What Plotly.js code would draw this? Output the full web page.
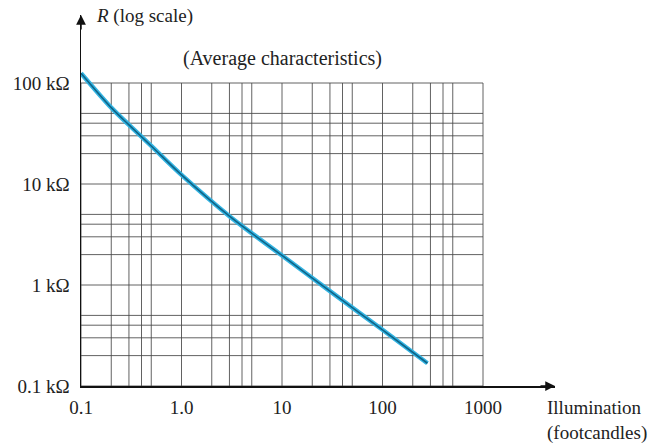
<!DOCTYPE html>
<html>
<head>
<meta charset="utf-8">
<script src="https://cdn.plot.ly/plotly-3.0.1.min.js"></script>
<style>html,body{margin:0;padding:0;background:#fff;}#chart{width:658px;height:445px;}</style>
</head>
<body>
<div id="chart"></div>
<script>
// Data (illumination in footcandles, resistance in kΩ)
var illumination = [0.1, 0.2, 0.3, 0.5, 1, 3, 10, 30, 100, 280];
var resistanceK  = [125, 57, 38.5, 23.8, 12.3, 4.8, 1.96, 0.87, 0.36, 0.168];

// Grid / tick definitions
var gridX = [0.1, 0.2, 0.3, 0.4, 0.5, 1, 2, 3, 4, 5, 10, 20, 30, 40, 50, 100, 200, 300, 400, 500, 1000];
var gridY = [0.1, 0.2, 0.3, 0.4, 0.5, 1, 2, 3, 4, 5, 10, 20, 30, 40, 50, 100];
var xTickVals = [0.1, 1, 10, 100, 1000];
var xTickText = ['0.1', '1.0', '10', '100', '1000'];
var yTickVals = [0.1, 1, 10, 100];
var yTickText = ['0.1 kΩ', '1 kΩ', '10 kΩ', '100 kΩ'];

var xMin = gridX[0], xMax = gridX[gridX.length - 1];
var yMin = gridY[0], yMax = gridY[gridY.length - 1];

var gx = [], gy = [];
gridX.forEach(function (v) { gx.push(v, v, null); gy.push(yMin, yMax, null); });
gridY.forEach(function (v) { gx.push(xMin, xMax, null); gy.push(v, v, null); });

var serif = 'Liberation Serif, Times New Roman, serif';

var traces = [
  {x: gx, y: gy, mode: 'lines', line: {color: 'rgba(70,70,70,0.85)', width: 1},
   hoverinfo: 'skip', showlegend: false, connectgaps: false},
  {x: illumination, y: resistanceK, mode: 'lines', line: {color: '#33b4e2', width: 4.5, shape: 'spline', smoothing: 1},
   hoverinfo: 'skip', showlegend: false},
  {x: illumination, y: resistanceK, mode: 'lines', line: {color: '#0f6488', width: 1.6, shape: 'spline', smoothing: 1},
   hoverinfo: 'skip', showlegend: false}
];

var L = 81, R = 103, T = 15, B = 59;
var W = 658, H = 445;
var pw = W - L - R, ph = H - T - B;
var xDec = 100.5, yDec = 101;

var layout = {
  width: W, height: H,
  margin: {l: L, r: R, t: T, b: B, pad: 0},
  paper_bgcolor: '#fff', plot_bgcolor: '#fff',
  showlegend: false,
  font: {family: serif, size: 19, color: '#222'},
  xaxis: {
    type: 'log', range: [-1, -1 + pw / xDec],
    tickvals: xTickVals, ticktext: xTickText,
    showgrid: false, zeroline: false,
    showline: true, linecolor: '#111', linewidth: 1.5,
    ticks: '', ticklabelstandoff: 4,
    tickfont: {family: serif, size: 19, color: '#222'}
  },
  yaxis: {
    type: 'log', range: [-1, -1 + ph / yDec],
    tickvals: yTickVals, ticktext: yTickText,
    showgrid: false, zeroline: false,
    showline: true, linecolor: '#111', linewidth: 1.5,
    ticks: '', ticklabelstandoff: 6,
    tickfont: {family: serif, size: 19, color: '#222'}
  },
  annotations: [
    {xref: 'paper', yref: 'paper', x: 1, y: 0, ax: -16, ay: 0, text: '', showarrow: true,
     arrowhead: 2, arrowsize: 1.3, arrowwidth: 1.5, arrowcolor: '#111'},
    {xref: 'paper', yref: 'paper', x: 0, y: 1, ax: 0, ay: 16, text: '', showarrow: true,
     arrowhead: 2, arrowsize: 1.3, arrowwidth: 1.5, arrowcolor: '#111'},
    {xref: 'paper', yref: 'paper', x: (94 - L) / pw, y: (H - B - 16) / ph, xanchor: 'left', yanchor: 'middle',
     text: '<i>R</i> (log scale)', showarrow: false, font: {family: serif, size: 19, color: '#222'}},
    {xref: 'paper', yref: 'paper', x: (282.5 - L) / pw, y: (H - B - 58) / ph, xanchor: 'center', yanchor: 'middle',
     text: '(Average characteristics)', showarrow: false, font: {family: serif, size: 20, color: '#222'}},
    {xref: 'paper', yref: 'paper', x: (545 - L) / pw, y: (H - B - 420) / ph, xanchor: 'left', yanchor: 'middle',
     align: 'left', text: 'Illumination<br>(footcandles)', showarrow: false,
     font: {family: serif, size: 19, color: '#222'}}
  ]
};

Plotly.newPlot('chart', traces, layout, {staticPlot: true, displayModeBar: false});
</script>
</body>
</html>
